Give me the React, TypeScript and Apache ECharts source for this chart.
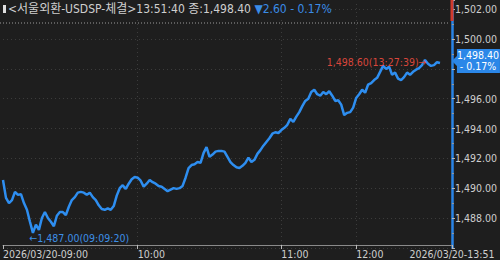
import React, { useEffect, useRef } from "react";
import * as echarts from "echarts";

// ---- data ----
const tickLabels = ["2026/03/20-09:00", "10:00", "11:00", "12:00", "2026/03/20-13:51"];
const tickIndices = [0, 45, 93, 118, 150];
const slotCount = 151;
const prices = [
  1490.55, 1489.35, 1489.0, 1489.2, 1489.75, 1489.55, 1489.6, 1489.0, 1488.55, 1487.75,
  1487.0, 1487.55, 1487.2, 1488.0, 1488.4, 1488.0, 1487.75, 1487.45, 1488.15, 1488.4,
  1488.4, 1488.2, 1488.75, 1489.2, 1489.4, 1489.7, 1489.75, 1489.7, 1489.55, 1489.7,
  1489.4, 1489.2, 1488.85, 1488.6, 1488.55, 1488.65, 1488.55, 1488.8, 1489.5, 1490.0,
  1490.2, 1489.95, 1490.3, 1490.6, 1490.75, 1490.7, 1490.5, 1490.1, 1490.3, 1490.55,
  1490.4, 1490.3, 1490.15, 1490.1, 1489.95, 1489.8, 1489.9, 1490.0, 1489.95, 1490.0,
  1490.15, 1490.7, 1491.35, 1491.55, 1491.6, 1491.75, 1491.7, 1492.35, 1492.75, 1492.1,
  1492.25, 1492.45, 1492.5, 1492.5, 1492.45, 1492.1, 1491.75, 1491.55, 1491.4, 1491.35,
  1491.5, 1491.7, 1492.05, 1491.75, 1491.9, 1492.3, 1492.55, 1492.85, 1493.1, 1493.35,
  1493.65, 1493.75, 1493.7, 1493.9, 1494.05, 1494.25, 1494.65, 1494.45, 1494.8, 1495.1,
  1495.5, 1495.85, 1496.0, 1496.45, 1496.6, 1496.3, 1496.2, 1496.45, 1496.3, 1496.5,
  1496.2, 1495.85, 1495.9, 1495.6, 1494.9, 1495.05, 1495.1, 1495.4, 1496.05, 1496.3,
  1496.6, 1496.4, 1496.95, 1497.05, 1497.25, 1497.4, 1497.8, 1498.2, 1498.0, 1498.15,
  1497.6, 1497.75, 1497.35, 1497.25, 1497.45, 1497.75, 1497.6, 1497.8, 1497.95, 1498.05,
  1498.25, 1498.6, 1498.35, 1498.2, 1498.25, 1498.45, 1498.4,
];
const yMin = 1486;
const yMax = 1502.62;
const yStep = 2;
const titleMain = "<서울외환-USDSP-체결>13:51:40 종:1,498.40 ";
const titleChange = "▼2.60 - 0.17%";
const minText = "←1,487.00(09:09:20)";
const maxText = "1,498.60(13:27:39)→";
const lastText = "1,498.40\n- 0.17%";

const BG = "#1e1e1e";
const FONT = '"DejaVu Sans Condensed", "Noto Sans CJK KR", sans-serif';
const FS = 10.5;
const LINE_BLUE = "#2e8ef0";
const TEXT = "#cfcfcf";
const RED = "#d8463c";

function fmt(v: number): string {
  const s = v.toFixed(2);
  const [i, d] = s.split(".");
  return i.replace(/\B(?=(\d{3})+(?!\d))/g, ",") + "." + d;
}

export default function App() {
  const ref = useRef<HTMLDivElement>(null);
  useEffect(() => {
    if (!ref.current) return;
    const chart = echarts.init(ref.current, null, { renderer: "svg" });
    const categories = Array.from({ length: slotCount }, (_, i) => String(i));
    const showTick = (idx: number) => tickIndices.includes(idx);
    const lastPrice = prices[prices.length - 1];
    chart.setOption({
      animation: false,
      backgroundColor: BG,
      textStyle: { fontFamily: FONT },
      grid: { left: 2, right: 48, top: 0, bottom: 12.2, containLabel: false },
      xAxis: {
        type: "category",
        data: categories,
        boundaryGap: false,
        offset: -2.8,
        axisLine: { show: true, lineStyle: { color: "#8a8a8a", width: 1 } },
        axisTick: { show: true, interval: (i: number) => showTick(i), length: 4, lineStyle: { color: "#bbbbbb" } },
        axisLabel: {
          interval: (i: number) => showTick(i),
          formatter: (_: string, i: number) => {
            const k = tickIndices.indexOf(i);
            return k >= 0 ? tickLabels[k] : "";
          },
          color: TEXT,
          fontFamily: FONT,
          fontSize: FS,
          align: "left",
          alignMaxLabel: "center",
          margin: 4,
          showMaxLabel: true,
          showMinLabel: true,
        },
        splitLine: {
          show: true,
          interval: (i: number) => showTick(i) && i !== 0 && i !== slotCount - 1,
          lineStyle: { color: "#3c3c3c", type: [1, 3] },
        },
      },
      yAxis: {
        type: "value",
        position: "right",
        min: yMin,
        max: yMax,
        interval: yStep,
        axisLine: { show: true, lineStyle: { color: "#2a84e6", width: 2.5 } },
        axisTick: { show: true, length: 3, lineStyle: { color: "#bbbbbb" } },
        minorTick: { show: true, splitNumber: 2, length: 2, lineStyle: { color: "#999999" } },
        axisLabel: {
          color: TEXT,
          fontFamily: FONT,
          fontSize: FS,
          margin: 3,
          showMinLabel: false,
          showMaxLabel: false,
          formatter: (v: number) => (Math.abs(v - lastPrice) < 1 ? "" : fmt(v)),
        },
        splitLine: { show: true, lineStyle: { color: "#3c3c3c", type: [1, 3] } },
      },
      series: [
        {
          type: "line",
          data: prices,
          showSymbol: false,
          symbol: "none",
          lineStyle: { color: LINE_BLUE, width: 2.5 },
          z: 3,
          markPoint: {
            silent: true,
            z: 10,
            data: [
              {
                type: "min",
                symbol: "circle",
                symbolSize: 1,
                itemStyle: { color: "rgba(0,0,0,0)" },
                label: {
                  show: true,
                  position: "right",
                  distance: 0,
                  offset: [-4, 5],
                  color: "#3d8fe6",
                  fontFamily: FONT,
                  fontSize: FS,
                  formatter: minText,
                },
              },
              {
                type: "max",
                symbol: "circle",
                symbolSize: 1,
                itemStyle: { color: "rgba(0,0,0,0)" },
                label: {
                  show: true,
                  position: "left",
                  distance: 0,
                  offset: [2, 2],
                  color: RED,
                  fontFamily: FONT,
                  fontSize: FS,
                  formatter: maxText,
                },
              },
              {
                coord: [slotCount - 1, lastPrice],
                symbol: "path://M0,12 L5,7 L5,0 L48,0 L48,24 L5,24 L5,17 Z",
                symbolSize: [48, 24],
                symbolKeepAspect: false,
                symbolOffset: [24, -2],
                itemStyle: { color: "#2b87e8" },
                label: {
                  show: true,
                  position: "inside",
                  offset: [2, 0],
                  color: "#ffffff",
                  fontFamily: FONT,
                  fontSize: FS,
                  lineHeight: 11,
                  align: "center",
                  formatter: lastText,
                },
              },
            ],
          },
        },
      ],
      graphic: [
        { type: "rect", z: 10, shape: { x: 0, y: 0, width: 306, height: 19 }, style: { fill: BG } },
        { type: "rect", z: 10, shape: { x: 306, y: 0, width: 144, height: 1.6 }, style: { fill: BG } },
        { type: "rect", z: 11, shape: { x: 3, y: 5, width: 3, height: 8 }, style: { fill: "#e0e0e0" } },
        {
          type: "text",
          z: 11,
          x: 8,
          y: 9,
          style: {
            text: "{w|" + titleMain + "}{b|" + titleChange + "}",
            verticalAlign: "middle",
            rich: {
              w: { fill: TEXT, fontFamily: FONT, fontSize: 12 },
              b: { fill: "#3a8ce6", fontFamily: FONT, fontSize: 12 },
            },
          },
        },
        {
          type: "line",
          z: 11,
          shape: { x1: 0, y1: 23, x2: 450, y2: 23 },
          style: { stroke: "#9a9a9a", lineWidth: 1, lineDash: [1, 2] },
        },
        { type: "rect", z: 12, shape: { x: 450.5, y: 0, width: 3, height: 21 }, style: { fill: "#d23a2e" } },
      ],
    });
    return () => chart.dispose();
  }, []);
  return (
    <div
      ref={ref}
      style={{ position: "absolute", left: 0, top: 0, width: 500, height: 260 }}
    />
  );
}
